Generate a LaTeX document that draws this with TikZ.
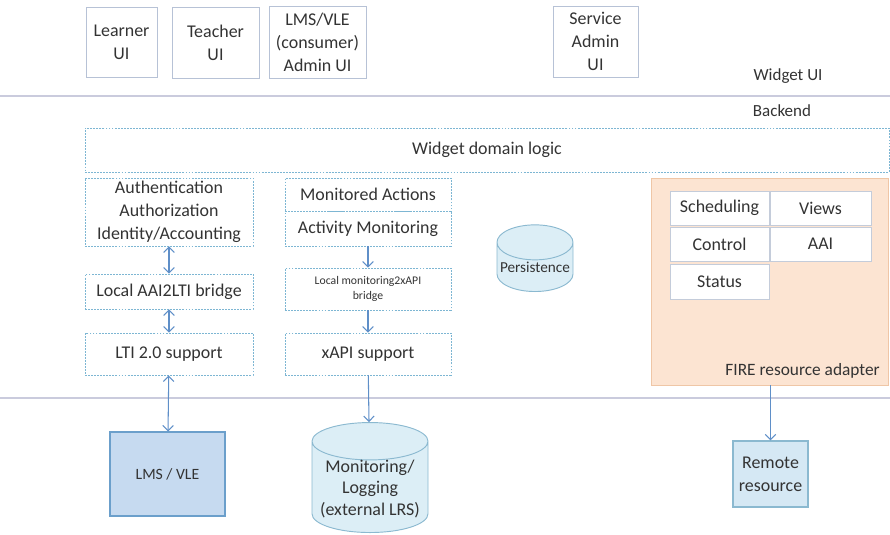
\documentclass[tikz,border=0pt]{standalone}
\usepackage{fontspec}
\setmainfont{Carlito}
\usetikzlibrary{arrows.meta,shapes.geometric}

\definecolor{txt}{HTML}{333333}
\definecolor{uiline}{HTML}{B7C2D6}
\definecolor{dashblue}{HTML}{7DB6D3}
\definecolor{sepline}{HTML}{CACBDD}
\definecolor{arrowblue}{HTML}{5F8FC8}
\definecolor{cylfill}{HTML}{DCEEF6}
\definecolor{cyldraw}{HTML}{8BB9D0}
\definecolor{extfill}{HTML}{C6DAF0}
\definecolor{extdraw}{HTML}{6B9FCB}
\definecolor{firefill}{HTML}{FCE4D2}
\definecolor{firedraw}{HTML}{EFC6A6}
\definecolor{cellline}{HTML}{C4CCDA}

\begin{document}
\begin{tikzpicture}[x=0.03cm,y=-0.03cm,
  every node/.style={text=txt,font=\fontsize{15.3}{19.5}\selectfont,align=center,inner sep=0pt},
  uibox/.style={draw=uiline,line width=0.8pt,fill=white},
  dbox/.style={draw=dashblue,line width=0.8pt,dash pattern=on 1.6pt off 1pt},
  cell/.style={draw=cellline,line width=0.8pt,fill=white,minimum width=3cm,minimum height=1.02cm},
  ext/.style={draw=extdraw,line width=0.9pt,fill=extfill},
  store/.style={cylinder,shape border rotate=90,draw=cyldraw,line width=0.8pt,fill=cylfill},
  link/.style={draw=arrowblue,line width=0.9pt,-{Straight Barb[length=4.5pt,width=9pt]}},
  dlink/.style={link,{Straight Barb[length=4.5pt,width=9pt]}-{Straight Barb[length=4.5pt,width=9pt]}}]
\useasboundingbox (0,0) rectangle (890,535);

\draw[sepline,line width=1.2pt] (0,96) -- (890,96);
\draw[sepline,line width=1.2pt] (0,398) -- (890,398);

\node[uibox,minimum width=2.13cm,minimum height=2.1cm] (learner) at (121.5,42) {Learner\\UI};
\node[uibox,minimum width=2.61cm,minimum height=2.13cm] (teacher) at (215.5,42.5) {Teacher\\UI};
\node[uibox,minimum width=2.91cm,minimum height=2.16cm] (lmsadmin) at (317.5,42) {LMS/VLE\\(consumer)\\Admin UI};
\node[uibox,minimum width=2.55cm,minimum height=2.13cm] (svcadmin) at (595.5,41.5) {Service\\Admin\\UI};
\node[font=\fontsize{14.5}{17}\selectfont] (widgetui) at (788,76) {Widget UI};
\node[font=\fontsize{14.5}{17}\selectfont] (backend) at (782,111) {Backend};

\node[dbox,minimum width=24.12cm,minimum height=1.32cm] (domain) at (487,150) {Widget domain logic};

\node[dbox,minimum width=5.04cm,minimum height=2.04cm] (auth) at (169,212) {Authentication\\Authorization\\Identity/Accounting};
\node[dbox,minimum width=5.04cm,minimum height=1.05cm] (aaibridge) at (169,291.5) {Local AAI2LTI bridge};
\node[dbox,minimum width=5.04cm,minimum height=1.26cm] (lti) at (169,354) {LTI 2.0 support};

\node[dbox,minimum width=4.98cm,minimum height=0.99cm] (monitored) at (368,194.5) {Monitored Actions};
\node[dbox,minimum width=4.98cm,minimum height=1.05cm] (activity) at (368,228.5) {Activity Monitoring};
\node[dbox,minimum width=4.98cm,minimum height=1.26cm,font=\fontsize{10}{13}\selectfont] (monbridge) at (368,289) {Local monitoring2xAPI\\bridge};
\node[dbox,minimum width=4.98cm,minimum height=1.26cm] (xapi) at (368,354) {xAPI support};

\node[store,anchor=south,minimum width=2.28cm,minimum height=2.0cm,aspect=0.5,font=\fontsize{13}{15}\selectfont] (persist) at (535,292) {Persistence};

\node[fill=firefill,draw=firedraw,line width=0.8pt,minimum width=7.11cm,minimum height=6.21cm] (fire) at (769.5,281.5) {};
\node[cell,minimum width=2.97cm] (sched) at (719.5,208) {Scheduling};
\node[cell,minimum width=3.03cm] (views) at (820.5,208) {Views};
\node[cell,minimum width=2.97cm] (control) at (719.5,244) {Control};
\node[cell,minimum width=3.03cm] (aai) at (820.5,244) {AAI};
\node[cell,minimum width=2.97cm,minimum height=1.05cm] (status) at (719.5,281.5) {Status};
\node[anchor=east,font=\fontsize{14.8}{17}\selectfont] (firelabel) at (880,371) {FIRE resource adapter};

\node[ext,minimum width=3.45cm,minimum height=2.52cm,font=\fontsize{13.4}{15}\selectfont] (lmsvle) at (167.5,474) {LMS / VLE};
\node[store,anchor=south,minimum width=3.48cm,minimum height=3.3cm,aspect=0.33] (monlog) at (370,533) {\rule{3.4cm}{0pt}};
\node[font=\fontsize{15.3}{18}\selectfont] (monlogtext) at (370,489) {Monitoring/\\Logging\\(external LRS)};
\node[ext,minimum width=2.25cm,minimum height=1.98cm,draw=cyldraw,fill=cylfill!70!extfill] (remote) at (770.5,474) {Remote\\resource};

\draw[dlink] (auth) -- (aaibridge);
\draw[dlink] (aaibridge) -- (lti);
\draw[dlink] (lti) -- (lmsvle);
\draw[link] (activity) -- (monbridge);
\draw[link] (monbridge) -- (xapi);
\draw[link] (xapi) -- (monlog);
\draw[link] (fire.south -| remote.north) -- (remote.north);
\end{tikzpicture}
\end{document}
